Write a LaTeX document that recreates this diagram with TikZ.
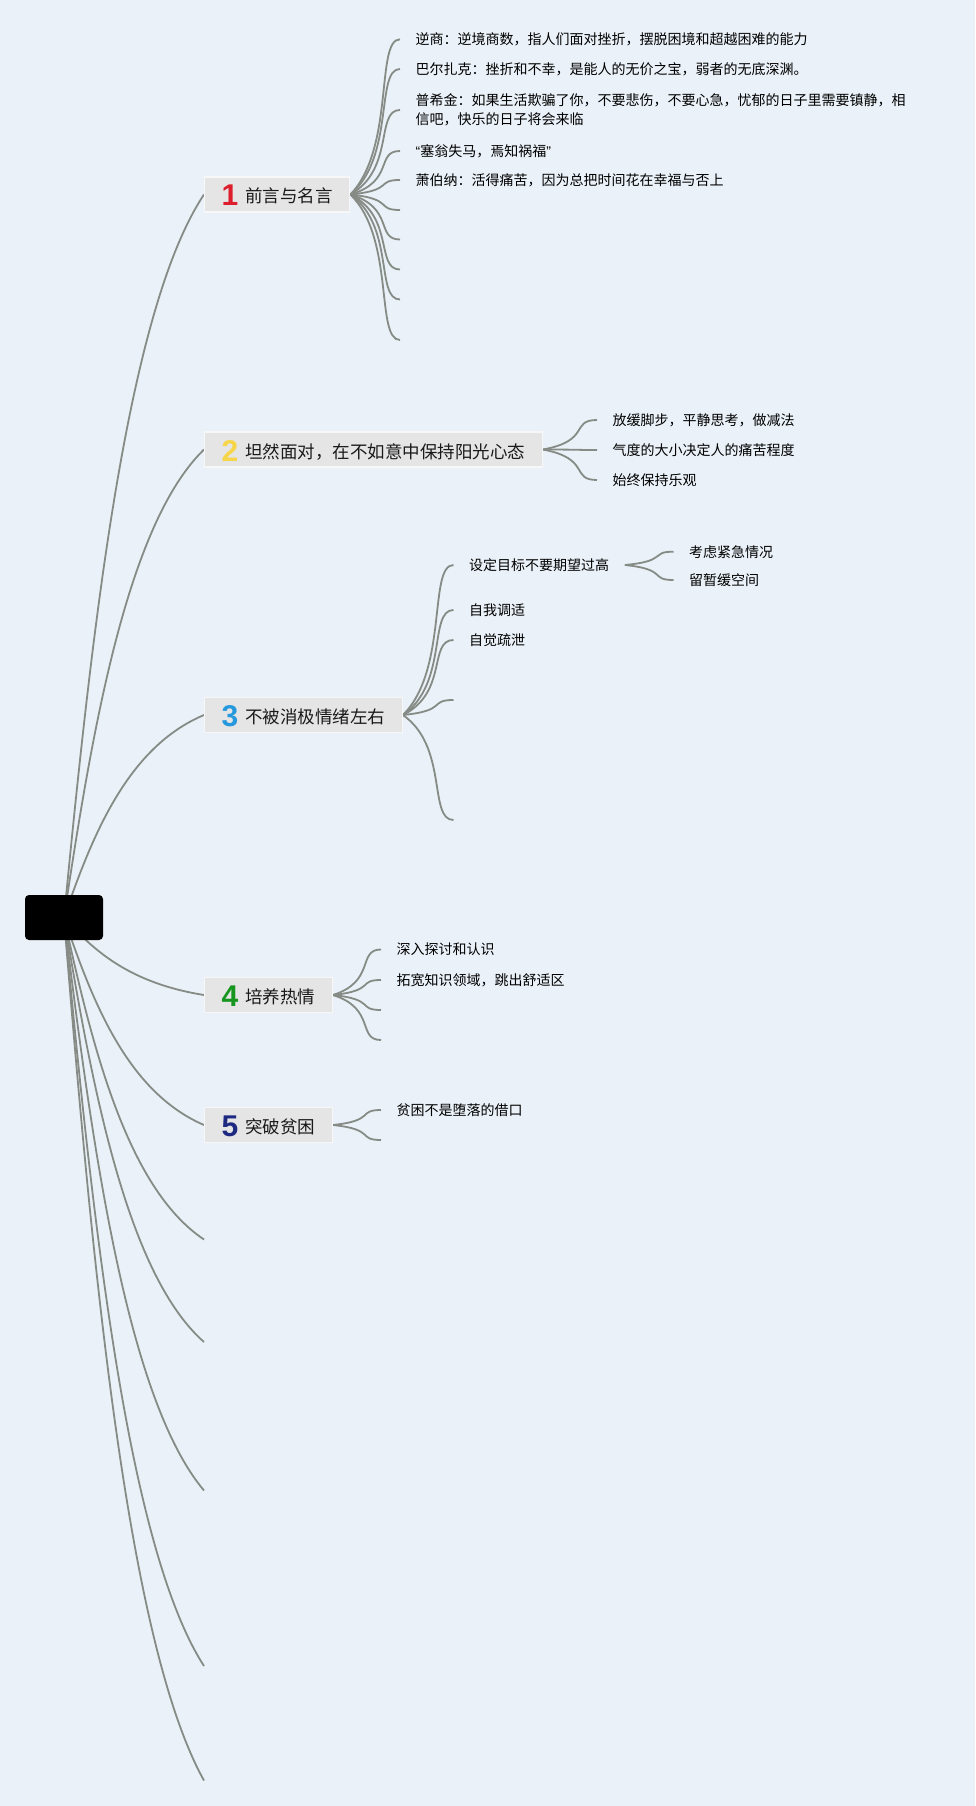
\documentclass[tikz,border=0pt]{standalone}
\usepackage{fontspec}
\setmainfont{Noto Sans CJK SC}
\newfontfamily\numfont{Liberation Sans}
\usetikzlibrary{calc,backgrounds}

\definecolor{bgblue}{RGB}{234,241,248}
\definecolor{linegray}{RGB}{134,139,134}
\definecolor{boxgray}{RGB}{229,229,229}
\definecolor{numred}{RGB}{220,30,45}
\definecolor{numyellow}{RGB}{246,214,72}
\definecolor{numblue}{RGB}{38,152,222}
\definecolor{numgreen}{RGB}{22,150,30}
\definecolor{numnavy}{RGB}{30,42,130}

% coloured number in front of a topic
\newcommand{\topicnum}[2]{\raisebox{-3pt}{\numfont\bfseries\fontsize{30}{30}\selectfont\textcolor{#1}{#2}}\hspace{7pt}}

\tikzset{
	topic/.style={anchor=west, fill=boxgray, draw=white!70!boxgray, line width=1.2pt, inner xsep=17pt, inner ysep=6pt, minimum height=35pt, text height=20pt, text depth=3pt, text=black!90, font=\fontsize{17.5}{20}\selectfont},
	leaf/.style={anchor=west, inner xsep=15.5pt, inner ysep=1pt, align=left, text=black, font=\fontsize{14}{19.5}\selectfont},
	trunk/.style={draw=linegray, line width=1.8pt, to path={let \p1=(\tikztostart), \p2=(\tikztotarget) in .. controls ({\x1+0.2*(\x2-\x1)},{\y1+0.4*(\y2-\y1)}) and ({\x1+0.45*(\x2-\x1)},{\y1+0.84*(\y2-\y1)}) .. (\tikztotarget)}},
	twig/.style={draw=linegray, line width=1.8pt, to path={let \p1=(\tikztostart), \p2=(\tikztotarget) in .. controls ({\x1+0.9*(\x2-\x1)},{\y1+0.3*(\y2-\y1)}) and ({\x1+0.5*(\x2-\x1)},\y2) .. (\tikztotarget)}}
}

\begin{document}
\begin{tikzpicture}[x=1pt,y=-1pt]
	\node[fill=black, rounded corners=4pt, minimum width=78pt, minimum height=45pt, inner sep=0pt] (root) at (64,917.5) {};

	% main topics
	\node[topic] (n1) at (204,194.5) {\topicnum{numred}{1}前言与名言};
	\node[topic] (n2) at (204,449.5) {\topicnum{numyellow}{2}坦然面对，在不如意中保持阳光心态};
	\node[topic] (n3) at (204,715) {\topicnum{numblue}{3}不被消极情绪左右};
	\node[topic] (n4) at (204,995) {\topicnum{numgreen}{4}培养热情};
	\node[topic] (n5) at (204,1125) {\topicnum{numnavy}{5}突破贫困};
	\coordinate (e6) at (204,1239.5);
	\coordinate (e7) at (204,1342);
	\coordinate (e8) at (204,1490.5);
	\coordinate (e9) at (204,1666);
	\coordinate (e10) at (204,1780.5);

	% 1
	\node[leaf] (q1) at (400,39.3) {逆商：逆境商数，指人们面对挫折，摆脱困境和超越困难的能力};
	\node[leaf] (q2) at (400,69) {巴尔扎克：挫折和不幸，是能人的无价之宝，弱者的无底深渊。};
	\node[leaf] (q3) at (400,110) {普希金：如果生活欺骗了你，不要悲伤，不要心急，忧郁的日子里需要镇静，相\\信吧，快乐的日子将会来临};
	\node[leaf] (q4) at (400,151) {{\numfont “}塞翁失马，焉知祸福{\numfont ”}};
	\node[leaf] (q5) at (400,180) {萧伯纳：活得痛苦，因为总把时间花在幸福与否上};
	\coordinate (q6) at (400,210);
	\coordinate (q7) at (400,239.5);
	\coordinate (q8) at (400,269.5);
	\coordinate (q9) at (400,299.5);
	\coordinate (q10) at (400,340);

	% 2
	\node[leaf] (s1) at (597,420) {放缓脚步，平静思考，做减法};
	\node[leaf] (s2) at (597,450) {气度的大小决定人的痛苦程度};
	\node[leaf] (s3) at (597,480) {始终保持乐观};

	% 3
	\node[leaf] (c1) at (453.5,565) {设定目标不要期望过高};
	\node[leaf] (c2) at (453.5,610) {自我调适};
	\node[leaf] (c3) at (453.5,640) {自觉疏泄};
	\coordinate (c4) at (453.5,700);
	\coordinate (c5) at (453.5,820);
	\node[leaf] (g1) at (673.5,551.7) {考虑紧急情况};
	\node[leaf] (g2) at (673.5,580) {留暂缓空间};

	% 4 and 5
	\node[leaf] (d1) at (381,949.5) {深入探讨和认识};
	\node[leaf] (d2) at (381,980) {拓宽知识领域，跳出舒适区};
	\coordinate (d3) at (381,1010);
	\coordinate (d4) at (381,1040);
	\node[leaf] (f1) at (381,1110) {贫困不是堕落的借口};
	\coordinate (f2) at (381,1140);

	\begin{scope}[on background layer]
		\fill[bgblue] (0,0) rectangle (975,1806);
		\foreach \t in {n1.west,n2.west,n3.west,n4.west,n5.west,e6,e7,e8,e9,e10}
			\draw[trunk] (root.center) to (\t);
		\foreach \t in {q1.west,q2.west,q3.west,q4.west,q5.west,q6,q7,q8,q9,q10}
			\draw[twig] (n1.east) to (\t);
		\foreach \t in {s1,s2,s3}
			\draw[twig] (n2.east) to (\t.west);
		\foreach \t in {c1.west,c2.west,c3.west,c4,c5}
			\draw[twig] (n3.east) to (\t);
		\draw[twig] (c1.east) to (g1.west);
		\draw[twig] (c1.east) to (g2.west);
		\foreach \t in {d1.west,d2.west,d3,d4}
			\draw[twig] (n4.east) to (\t);
		\draw[twig] (n5.east) to (f1.west);
		\draw[twig] (n5.east) to (f2);
	\end{scope}
\end{tikzpicture}
\end{document}
